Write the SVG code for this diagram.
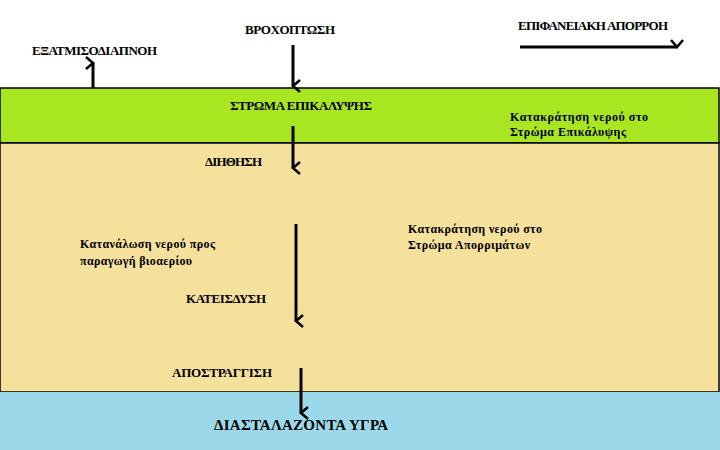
<svg xmlns="http://www.w3.org/2000/svg" width="720" height="450" viewBox="0 0 720 450">
<style>
text{font-family:"Liberation Serif","DejaVu Serif",serif;font-weight:bold;font-size:13px;fill:#000}
.s{font-size:12px}
.big{font-size:15px}
.a{stroke:#000;stroke-width:3;fill:none;marker-end:url(#h)}
</style>
<defs><marker id="h" markerWidth="14" markerHeight="14" refX="7" refY="10" orient="auto" markerUnits="userSpaceOnUse" viewBox="0 0 14 14"><polyline points="1,3 7,10 13,3" fill="none" stroke="#000" stroke-width="2.5"/></marker></defs>
<rect width="720" height="450" fill="#fff"/>
<g id="cover"><rect x="0" y="88" width="719" height="55" fill="#a9e622" stroke="#000" stroke-width="1.5"/>
<text x="230" y="110" textLength="142">ΣΤΡΩΜΑ ΕΠΙΚΑΛΥΨΗΣ</text>
<text class="s" x="510" y="121" textLength="138">Κατακράτηση νερού στο</text>
<text class="s" x="510" y="136" textLength="116">Στρώμα Επικάλυψης</text></g>
<g id="waste"><rect x="0" y="143" width="719" height="249" fill="#f5e19c" stroke="#000" stroke-width="1.5"/>
<text class="s" x="80" y="248" textLength="135">Κατανάλωση νερού προς</text>
<text class="s" x="80" y="265" textLength="112">παραγωγή βιοαερίου</text>
<text class="s" x="408" y="233" textLength="134">Κατακράτηση νερού στο</text>
<text class="s" x="408" y="249" textLength="122">Στρώμα Απορριμάτων</text></g>
<g id="leachate"><rect x="0" y="392" width="720" height="58" fill="#9bd8ea"/>
<text class="big" x="214" y="430" textLength="174">ΔΙΑΣΤΑΛΑΖΟΝΤΑ ΥΓΡΑ</text></g>
<g id="labels">
<text x="245" y="34" textLength="90">ΒΡΟΧΟΠΤΩΣΗ</text>
<text x="32" y="55" textLength="125">ΕΞΑΤΜΙΣΟΔΙΑΠΝΟΗ</text>
<text x="518" y="30" textLength="150">ΕΠΙΦΑΝΕΙΑΚΗ ΑΠΟΡΡΟΗ</text>
<text x="205" y="166" textLength="57">ΔΙΗΘΗΣΗ</text>
<text x="186" y="303" textLength="80">ΚΑΤΕΙΣΔΥΣΗ</text>
<text x="172" y="377" textLength="100">ΑΠΟΣΤΡΑΓΓΙΣΗ</text>
</g>
<g id="connectors">
<path class="a" d="M93 88V63"/>
<path class="a" d="M293 45V86"/>
<path class="a" d="M520 47H677"/>
<path class="a" d="M293 126V168"/>
<path class="a" d="M296 224V321"/>
<path class="a" d="M301 368V413"/>
</g>
</svg>
